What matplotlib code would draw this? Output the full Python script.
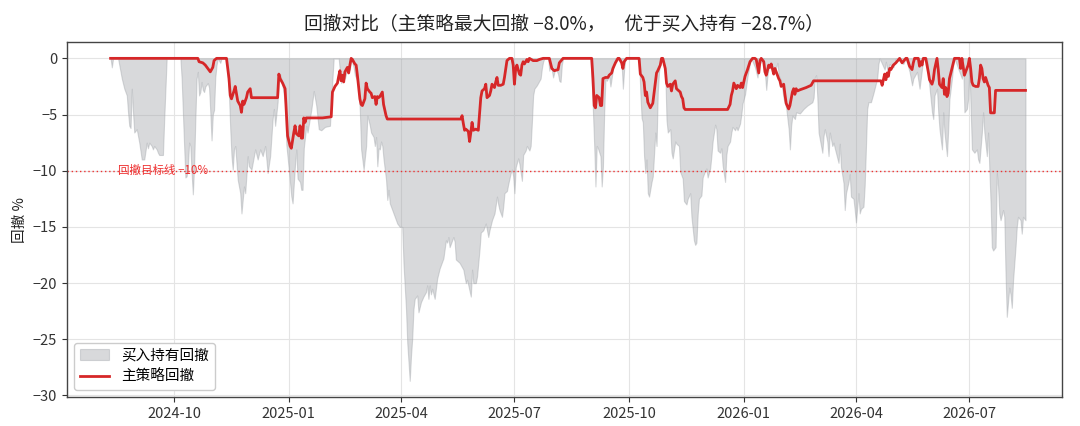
import numpy as np
import pandas as pd
import matplotlib
matplotlib.use("Agg")
import matplotlib.pyplot as plt
import matplotlib.dates as mdates

plt.rcParams['font.family'] = ['Noto Sans CJK SC', 'DejaVu Sans']
plt.rcParams['axes.unicode_minus'] = True

# ---------------- data ----------------
start_date = "2024-08-11"   # first trading day shown

# buy & hold drawdown (%), days since start_date
bh_days = [0, 1, 2, 6, 9, 11, 13, 14, 15, 16, 17, 18, 19, 21, 23, 25, 27, 29, 30, 31, 33, 34, 35, 37, 38, 39, 42, 43, 45,
           56, 57, 58, 59, 60, 61, 62, 63, 64, 65, 66, 67, 68, 69, 70, 71, 72, 73, 74, 75, 76, 78, 79, 80, 81, 82, 83, 84, 85, 86, 88, 89, 93,
           95, 96, 97, 98, 99, 100, 102, 104, 105, 107, 108, 110, 111, 113, 116, 118, 120, 122, 124, 126, 128, 130, 131, 132, 134, 135, 136,
           138, 140, 141, 143, 145, 146, 148, 149, 150, 152, 153, 154, 155, 157, 158, 161, 163, 165, 167, 169, 172, 176, 177, 178, 179, 183,
           184, 185, 187, 188, 190, 192, 193, 195, 196, 198, 199, 200, 201, 202, 203, 205, 206, 207, 208, 209, 211, 212, 213, 214, 215, 216,
           217, 218, 219, 221, 222, 223, 224, 226, 228, 230, 232, 234, 235, 237, 238, 240, 241, 242, 243, 244, 246, 247, 249, 251, 253, 254,
           255, 256, 257, 258, 260, 262, 264, 267, 269, 270, 271, 272, 275, 276, 277, 280, 283, 285, 286, 289, 290, 291, 293, 294, 296, 297,
           299, 301, 303, 304, 306, 308, 310, 311, 312, 314, 315, 316, 318, 319, 321, 322, 323, 324, 325, 327, 328, 330, 331, 333, 334, 336,
           337, 338, 339, 340, 342, 345, 346, 347, 348, 351, 352, 353, 355, 357, 359, 360, 361, 362, 363, 385,
           386, 387, 388, 389, 390, 391, 393, 394, 395, 396, 397, 398, 400, 401, 403, 404, 405, 409, 410, 411, 412, 413, 424,
           425, 426, 427, 428, 429, 430, 431, 432, 434, 435, 437, 438, 439, 440, 441, 442, 443, 445, 446, 447, 449, 450, 451, 453, 454, 456,
           457, 459, 460, 462, 463, 465, 466, 468, 469, 470, 471, 472, 474, 475, 477, 478, 479, 481, 482, 483, 485, 486, 487, 489, 490, 491,
           493, 494, 495, 497, 498, 499, 501, 502, 503, 505, 506, 507, 509, 510, 511, 513, 514,
           517, 519, 520, 522, 524, 526, 527, 528, 530, 533, 535, 536, 538, 540, 542, 544, 545, 546, 547, 549, 550, 553, 556, 559, 563, 564,
           565, 566, 567, 568, 571, 572, 573, 575, 576, 577, 579, 580, 581, 584, 585, 586, 588, 589, 590, 592, 593, 594, 596, 597, 598, 600,
           601, 602, 604, 605, 607, 608, 610, 612, 615, 616, 617,
           621, 622, 624, 625, 628, 630, 636, 638, 641, 643, 644, 647, 649, 651, 652, 655, 656, 659, 660, 661, 663, 664, 665, 667, 668, 669,
           671, 672, 673, 675, 676, 677, 683, 684, 685, 687, 688, 689, 691, 693, 695, 696, 697, 699, 700, 701, 703, 704, 705, 706, 707, 708,
           710, 711, 712, 713, 714, 716, 717, 718, 719, 721, 722, 723, 724, 726, 727, 728, 730, 731, 732, 734]
bh_dd = [0, -0.8, 0, 0, -1.8, -2.7, -3.3, -4.8, -6.0, -6.2, -2.7, -4.8, -6.6, -6.3, -7.5, -9.0, -9.0, -7.5, -8.0, -7.5, -7.8, -8.1, -7.8, -8.1, -8.4, -8.6, -8.6, -5.5, 0,
         0, -1.8, -4.8, -7.8, -10.6, -10.5, -9.6, -7.5, -7.8, -10.2, -12.1, -9.6, -5.4, -1.8, -1.2, -3.3, -3.0, -2.1, -2.8, -3.0, -2.5, -2.2, -2.6, -4.8, -7.3, -5.0, -4.6, -1.7, -0.6, 0, -0.4, 0, 0,
         -3.3, -6.3, -8.7, -9.9, -8.1, -7.8, -10.8, -12.0, -13.8, -11.4, -12.0, -8.7, -9.6, -9.9, -8.1, -9.0, -8.1, -8.7, -7.8, -10.2, -8.7, -5.4, -4.5, -6.0, -3.9, -1.8, -1.4,
         -2.5, -4.0, -7.7, -9.9, -12.3, -12.9, -9.4, -8.1, -10.7, -11.0, -11.7, -11.7, -8.0, -6.0, -6.6, -4.6, -2.9, -4.2, -6.3, -6.4, -6.1, -6.0, -3.9, -1.8, 0, 0,
         -1.2, -2.2, -1.2, -1.8, -0.9, -1.0, 0, -0.8, -1.5, -2.0, -2.6, -4.8, -8.1, -9.0, -9.9, -7.8, -5.1, -5.5, -6.0, -6.6, -7.0, -7.8, -7.0, -9.6, -8.0, -8.1,
         -7.4, -7.8, -9.0, -10.8, -12.6, -11.7, -12.9, -13.5, -14.1, -14.7, -15.0, -15.0, -18.3, -22.3, -25.3, -28.7, -26.5, -24.9, -22.3, -21.4, -21.1, -22.6, -21.7, -21.2, -20.8, -20.2,
         -21.4, -20.2, -21.0, -20.5, -21.4, -19.6, -18.7, -17.8, -16.2, -16.4, -15.9, -16.8, -15.9, -16.3, -17.9, -18.2, -18.8, -20.0, -19.7, -21.2, -18.8, -20.0, -20.0, -19.4, -17.0, -15.5,
         -15.3, -14.7, -15.9, -15.3, -14.4, -13.8, -12.3, -13.0, -13.5, -14.1, -13.2, -12.0, -11.8, -11.2, -10.2, -9.9, -10.5, -12.0, -9.7, -8.9, -9.4, -10.9, -8.6, -8.2, -7.8, -8.2,
         -7.8, -5.7, -3.3, -2.7, -2.4, -1.8, -0.9, -0.3, 0, 0, -1.1, -0.4, -1.7, -0.8, -1.4, -2.0, -2.1, -0.6, 0, 0,
         -2.0, -4.8, -7.8, -11.4, -7.8, -8.0, -8.7, -11.4, -9.6, -4.8, -1.8, -2.0, -1.6, -2.5, -1.0, -0.5, 0, 0, -0.5, -2.7, -1.0, 0, 0,
         -3.0, -5.3, -5.7, -8.7, -10.2, -9.0, -12.0, -12.3, -11.0, -10.5, -6.6, -7.8, -3.0, -1.2, -0.4, 0, 0, -1.2, -5.5, -6.6, -6.3, -8.4, -8.9, -7.4, -7.6, -7.8,
         -10.1, -10.7, -12.7, -13.0, -12.5, -12.0, -14.1, -16.2, -16.6, -16.4, -13.9, -12.5, -12.2, -10.6, -10.0, -9.8, -10.6, -9.8, -8.7, -7.4, -5.9, -6.3, -8.2, -8.4, -8.0, -9.5,
         -11.0, -8.6, -7.8, -7.4, -6.6, -6.1, -6.4, -6.1, -6.4, -5.8, -5.0, -4.0, -3.2, -2.4, -1.6, -0.4, 0,
         -0.8, -1.7, -0.6, -0.3, 0, -2.8, -1.5, -0.8, -0.5, -1.2, -0.4, -1.5, -2.0, -3.6, -4.4, -6.3, -8.1, -6.0, -5.1, -5.4, -4.8, -4.9, -4.5, -4.2, -3.9, -3.5,
         -1.7, -1.5, -3.5, -6.6, -8.4, -6.9, -6.3, -7.4, -8.7, -6.6, -7.8, -7.5, -8.0, -9.3, -7.6, -9.7, -11.1, -13.5, -12.0, -11.0, -10.3, -12.3, -12.5, -13.5, -14.6, -12.0,
         -13.8, -13.4, -13.2, -11.3, -4.5, -3.9, -3.9, -3.1, -1.8, -0.5, 0,
         -1.0, -0.3, -1.6, -0.5, -0.8, 0, -0.5, 0, -1.2, -2.4, -1.8, -1.2, -2.7, -0.9, 0, 0, -1.5, -4.8, -5.4, -3.3, -2.7, -4.8, -6.3, -8.1, -4.8, -6.6,
         -8.7, -6.3, -3.6, -1.8, -0.6, 0, -1.8, -0.6, -4.8, -4.5, -3.6, -0.8, -8.1, -8.4, -8.1, -9.0, -9.3, -6.6, -4.8, -6.6, -8.7, -6.6, -9.9, -12.9, -16.8, -17.1,
         -16.8, -10.2, -11.4, -13.8, -14.4, -13.5, -14.1, -19.2, -23.0, -20.4, -21.0, -22.2, -19.8, -16.8, -15.0, -14.1, -14.4, -15.6, -14.1, -14.4]

# main strategy drawdown (%), days since start_date
st_days = [0, 70, 71, 74, 76, 78, 80, 82, 83, 85, 93, 95, 96, 97, 99, 100, 102, 104, 105, 106, 107, 109, 110, 112, 113, 134, 135, 136,
           138, 140, 141, 142, 144, 145, 147, 148, 149, 151, 152, 153, 154, 155, 156, 157, 170, 177, 178, 180, 182, 183, 184, 185, 186, 187,
           188, 190, 191, 192, 193, 194, 196, 197, 198, 200, 201, 202, 204, 205, 206, 208, 209, 210, 212, 213, 214, 215, 216, 218, 219, 221,
           222, 281, 282, 283, 284, 285, 287, 288, 289, 290, 291, 293, 295, 297, 298, 300, 301, 302, 304, 305, 306, 308, 309, 310, 311, 313,
           315, 316, 318, 319, 320, 322, 323, 324, 325, 326, 328, 329, 330, 331, 332, 334, 335, 336, 339, 342, 344, 347, 352, 354, 356, 359,
           360, 363, 386, 387, 388, 389, 390, 391, 392, 393, 394, 395, 397, 399, 400, 402, 403, 405, 407, 408, 410, 411, 412, 414, 424, 425,
           427, 428, 429, 430, 431, 433, 434, 435, 437, 438, 439, 441, 442, 443, 445, 446, 447, 449, 450, 451, 453, 454, 455, 457, 458, 459,
           460, 461, 495, 497, 498, 499, 500, 502, 503, 505, 506, 507, 509, 510, 511, 513, 515, 517, 518, 520, 521, 522, 524, 525, 526, 528,
           529, 530, 532, 533, 534, 536, 537, 538, 540, 541, 542, 544, 545, 546, 547, 548, 549, 550, 551, 553, 558, 562, 564, 618, 619, 621,
           622, 623, 624, 625, 626, 628, 630, 633, 634, 635, 638, 639, 641, 643, 644, 645, 648, 649, 650, 651, 652, 654, 656, 657, 659, 660,
           661, 663, 664, 665, 667, 668, 669, 670, 671, 672, 673, 675, 677, 681, 682, 683, 685, 686, 688, 689, 690, 691, 692, 694, 696, 697,
           698, 699, 700, 701, 702, 704, 705, 706, 709, 710, 734]
st_dd = [0, 0, -0.3, -0.4, -0.6, -0.9, -1.2, -0.8, -0.2, 0, 0, -1.8, -3.3, -3.6, -2.9, -2.5, -3.8, -4.2, -4.8, -3.8, -4.1, -3.5, -3.0, -2.7, -3.5, -3.5, -1.4, -1.8,
         -2.2, -2.7, -4.8, -6.9, -7.8, -8.0, -6.6, -6.0, -6.7, -6.9, -6.0, -7.1, -7.1, -5.3, -5.7, -5.3, -5.3, -5.2, -3.0, -2.5, -2.2, -1.6, -1.1, -2.0, -1.5, -2.1,
         -1.2, -0.8, -1.3, -0.6, 0, -0.1, -0.5, -0.6, -1.5, -3.6, -4.1, -4.2, -3.6, -2.2, -2.7, -3.0, -3.1, -3.5, -3.4, -4.1, -3.4, -3.5, -3.4, -3.0, -4.1, -5.1,
         -5.4, -5.4, -5.1, -5.8, -6.4, -6.3, -6.5, -7.4, -6.6, -5.7, -6.4, -6.3, -6.4, -3.5, -2.9, -2.7, -2.3, -3.5, -3.3, -2.9, -2.3, -2.6, -2.1, -1.7, -2.4, -2.4,
         -2.3, -1.7, -0.2, -0.1, 0, 0, -0.6, -2.3, -0.9, -0.6, -1.4, -1.5, -0.6, -0.3, -0.5, -0.1, -0.3, 0, -0.2, -0.2, -0.1, 0, 0, -0.9, -1.1, -1.0,
         -0.4, 0, 0, -1.8, -4.2, -4.4, -3.3, -3.4, -3.5, -4.2, -4.2, -1.8, -1.7, -1.7, -1.5, -1.3, -0.9, -0.4, 0, 0, -0.4, -0.9, -0.3, 0, 0, -1.4,
         -1.7, -2.1, -3.3, -3.0, -3.9, -4.4, -4.2, -4.0, -2.2, -1.3, -1.1, -0.6, 0, 0, -0.9, -2.2, -2.5, -2.3, -2.9, -2.3, -2.0, -2.7, -2.8, -3.0, -3.4, -3.6,
         -4.4, -4.55, -4.55, -4.1, -3.3, -2.9, -2.2, -2.7, -2.4, -2.6, -2.2, -2.6, -1.6, -1.3, -1.0, -0.3, 0, 0, -0.1, -1.3, -0.2, 0, -0.3, -1.2, -1.5, -0.6,
         -0.8, -0.5, -1.4, -0.9, -1.2, -1.8, -2.0, -2.5, -2.3, -3.2, -4.0, -4.5, -4.2, -3.6, -3.0, -2.7, -3.2, -2.7, -2.9, -2.8, -2.6, -2.4, -2.0, -2.0, -2.4, -1.4,
         -1.9, -1.3, -1.6, -0.9, -1.0, -0.6, -0.4, 0, -0.2, -0.4, 0, 0, -0.7, -1.0, -0.4, 0, 0, -0.7, -0.3, -0.6, 0, 0, -1.2, -1.9, -2.3, -1.9,
         -1.0, 0, -1.0, -2.3, -2.6, -1.8, -3.2, -2.6, -3.4, -3.1, -1.8, -0.9, 0, 0, -0.9, 0, -1.5, -1.2, -0.6, 0, -0.9, -2.1, -2.4, -2.5, -2.5, -1.8,
         -0.6, -0.9, -1.8, -2.1, -1.7, -2.4, -2.6, -4.85, -4.85, -2.85, -2.85]

target_dd = -10.0
title_text = "回撤对比（主策略最大回撤 −8.0%，　优于买入持有 −28.7%）"
label_bh = "买入持有回撤"
label_st = "主策略回撤"
label_target = "回撤目标线 −10%"
ylabel_text = "回撤 %"

# ---------------- build series ----------------
base = pd.Timestamp(start_date)
bh_dates = base + pd.to_timedelta(bh_days, unit="D")
st_dates = base + pd.to_timedelta(st_days, unit="D")

fig = plt.figure(figsize=(10.8, 4.26), dpi=100)
ax = fig.add_axes([0.062, 0.068, 0.921, 0.833])

ax.fill_between(bh_dates, bh_dd, 0, color="#9ea2a7", alpha=0.4, linewidth=0.8,
                label=label_bh, zorder=2)
ax.plot(st_dates, st_dd, color="#d62728", linewidth=2.0, label=label_st, zorder=3)

ax.axhline(target_dd, color="#ee3333", linestyle=(0, (1, 2)), linewidth=1.0, zorder=2)
ax.text(base + pd.Timedelta(days=6), target_dd, label_target, color="#ee3333",
        fontsize=8.3, va="center", ha="left", zorder=4)

ax.set_xlim(base - pd.Timedelta(days=35), base + pd.Timedelta(days=763))
ax.set_ylim(-30.14, 1.44)

ax.xaxis.set_major_locator(mdates.MonthLocator(bymonth=[1, 4, 7, 10]))
ax.xaxis.set_major_formatter(mdates.DateFormatter("%Y-%m"))
ax.set_yticks([0, -5, -10, -15, -20, -25, -30])

ax.grid(True, color="#e4e4e4", linewidth=0.8, zorder=0)
ax.set_axisbelow(True)
for s in ax.spines.values():
    s.set_color("#444444")
    s.set_linewidth(1.0)
ax.tick_params(labelsize=10.5, colors="#333333")

ax.set_ylabel(ylabel_text, fontsize=10.5, color="#222222")
ax.set_title(title_text, fontsize=13.5, pad=9, color="#222222")

leg = ax.legend(loc="lower left", fontsize=10.5, frameon=True, framealpha=1.0,
                edgecolor="#cccccc", fancybox=True)

fig.savefig("out.png", dpi=100)
